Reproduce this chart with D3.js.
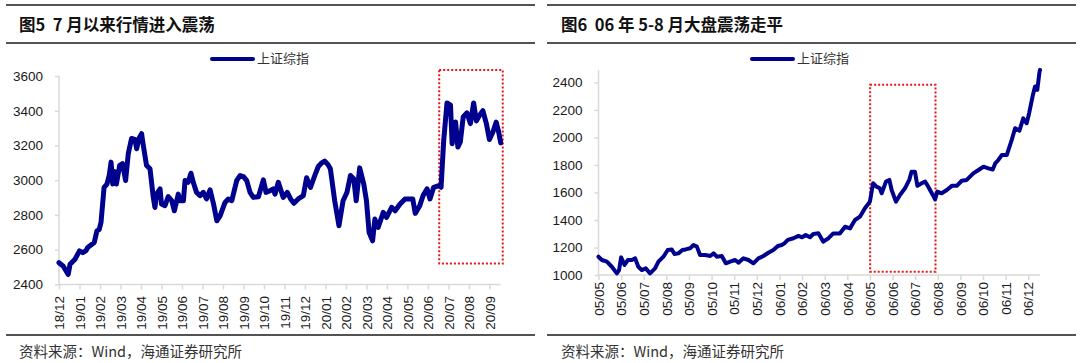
<!DOCTYPE html>
<html>
<head>
<meta charset="utf-8">
<script src="https://cdn.jsdelivr.net/npm/d3@7"></script>
<style>
  body { margin: 0; background: #fff; }
  svg { display: block; }
  .rule { stroke: #1a1a1a; stroke-width: 1.6; }
  .title { font-family: "Noto Sans CJK SC", sans-serif; font-weight: 700; font-size: 16.5px; fill: #111; white-space: pre; }
  .source { font-family: "Noto Sans CJK SC", sans-serif; font-size: 14.5px; fill: #333; }
  .legend text { font-family: "Noto Sans CJK SC", sans-serif; font-size: 13px; fill: #333; }
  .axis text { font-family: "Liberation Sans", Arial, sans-serif; font-size: 13.5px; fill: #1a1a1a; }
  .axis path, .axis line { stroke: #d9d9d9; stroke-width: 1.5; }
  .line { fill: none; stroke: #00008f; stroke-linejoin: round; stroke-linecap: round; }
  .box { fill: none; stroke: #e3161b; stroke-width: 2; stroke-dasharray: 2,2; }
</style>
</head>
<body>
<div id="chart"></div>
<script>
var width = 1080, height = 363;

// 图5: 上证综指, 18/12 - 20/09 (x in label steps)
var leftLabels = ["18/12","19/01","19/02","19/03","19/04","19/05","19/06","19/07","19/08","19/09","19/10","19/11","19/12",
  "20/01","20/02","20/03","20/04","20/05","20/06","20/07","20/08","20/09"];
var leftX = [0,0.2,0.45,0.54,0.78,1.0,1.16,1.32,1.4,1.72,1.85,1.96,2.05,2.2,2.34,2.45,2.54,2.62,2.7,2.8,2.96,3.1,3.25,3.38,3.54,3.7,3.79,3.9,4.03,4.1,4.27,4.44,4.6,4.68,4.76,4.93,5.0,5.17,5.33,5.5,5.63,5.82,5.9,6.07,6.15,6.3,6.44,6.55,6.71,6.88,7.04,7.2,7.37,7.54,7.7,7.86,8.1,8.26,8.43,8.67,8.84,9.0,9.16,9.32,9.48,9.73,9.97,10.1,10.3,10.45,10.54,10.7,10.94,11.14,11.3,11.46,11.67,11.92,12.08,12.27,12.48,12.65,12.8,12.96,13.12,13.24,13.45,13.66,13.86,14.05,14.22,14.38,14.5,14.67,14.87,15.0,15.13,15.3,15.41,15.57,15.82,15.98,16.23,16.4,16.64,16.88,17.1,17.26,17.38,17.6,17.76,17.96,18.1,18.28,18.53,18.64,18.77,18.93,19.1,19.18,19.35,19.46,19.58,19.72,19.9,20.07,20.23,20.36,20.52,20.68,20.85,21.0,21.17,21.33,21.45,21.55];
var leftY = [2525,2506,2458,2516,2545,2593,2583,2595,2612,2641,2708,2716,2757,2959,2978,3027,3104,2978,3050,2978,3085,3095,2998,3153,3240,3235,3181,3240,3268,3210,3085,3066,2901,2843,2920,2950,2863,2853,2905,2882,2824,2920,2882,2882,2998,2988,3040,2988,2930,2911,2930,2892,2944,2863,2766,2795,2872,2892,2882,2998,3027,3021,2998,2930,2901,2905,3002,2930,2940,2950,2920,2988,2901,2930,2892,2867,2892,2911,3014,2959,3027,3079,3098,3110,3091,3066,2882,2738,2882,2930,3027,3008,2882,3071,2978,2882,2699,2651,2776,2728,2815,2786,2844,2824,2863,2892,2892,2892,2809,2853,2911,2950,2892,2959,2969,2959,3230,3445,3432,3210,3335,3191,3220,3364,3388,3326,3445,3341,3374,3400,3326,3234,3278,3335,3278,3215];
var leftTicks = [2400,2600,2800,3000,3200,3400,3600];
var leftBoxX = [18.55,21.65], leftBoxY = [2520,3635];

// 图6: 上证综指, 05/05 - 06/12
var rightLabels = ["05/05","05/06","05/07","05/08","05/09","05/10","05/11","05/12",
  "06/01","06/02","06/03","06/04","06/05","06/06","06/07","06/08","06/09","06/10","06/11","06/12"];
var rightX = [0,0.15,0.37,0.59,0.81,0.91,1.0,1.15,1.3,1.47,1.62,1.76,1.91,2.09,2.28,2.5,2.65,2.87,3.06,3.24,3.36,3.53,3.71,3.85,4.05,4.2,4.35,4.49,4.72,4.94,5.09,5.23,5.45,5.63,5.82,6.04,6.19,6.41,6.63,6.85,7.07,7.29,7.51,7.73,7.93,8.1,8.22,8.37,8.62,8.84,9.0,9.16,9.35,9.5,9.72,9.94,10.16,10.38,10.67,10.9,11.12,11.34,11.56,11.78,12.0,12.14,12.29,12.44,12.52,12.71,12.86,12.96,13.15,13.33,13.55,13.74,13.84,13.99,14.1,14.29,14.44,14.58,14.78,14.88,14.98,15.17,15.4,15.62,15.84,16.06,16.28,16.57,16.8,17.02,17.24,17.43,17.54,17.68,17.83,18.05,18.27,18.42,18.61,18.78,18.93,19.04,19.19,19.3,19.4,19.49,19.52];
var rightY = [1133,1109,1097,1060,1012,1036,1128,1073,1109,1109,1121,1060,1036,1048,1012,1048,1097,1133,1182,1186,1152,1157,1182,1186,1194,1218,1206,1145,1145,1138,1157,1133,1138,1085,1097,1109,1090,1121,1109,1085,1121,1138,1162,1182,1211,1218,1230,1255,1267,1284,1274,1291,1274,1298,1303,1242,1266,1302,1302,1351,1339,1400,1424,1485,1533,1667,1642,1630,1594,1679,1691,1618,1533,1582,1630,1691,1751,1751,1648,1667,1679,1642,1582,1550,1606,1594,1618,1648,1648,1685,1691,1739,1763,1787,1775,1767,1811,1836,1872,1872,1982,2067,2049,2139,2103,2176,2297,2370,2345,2467,2491];
var rightTicks = [1000,1200,1400,1600,1800,2000,2200,2400];
var rightBoxX = [12.01,14.9], rightBoxY = [1024,2382];

var svg = d3.select("#chart").append("svg")
  .attr("width", width)
  .attr("height", height);

var panels = [
  { x0: 6, x1: 535, title: "图5  7 月以来行情进入震荡", tx: 19,
    labels: leftLabels, xs: leftX, ys: leftY, ticks: leftTicks,
    xDom: [0, 21.55], yDom: [2400, 3600], xr: [59, 500.7], yr: [284.4, 76],
    boxX: leftBoxX, boxY: leftBoxY, sw: 5, lx: 212, labTop: 296 },
  { x0: 547, x1: 1076, title: "图6  06 年 5-8 月大盘震荡走平", tx: 561,
    labels: rightLabels, xs: rightX, ys: rightY, ticks: rightTicks,
    xDom: [0, 19.52], yDom: [1000, 2490], xr: [598.5, 1040], yr: [275, 70],
    boxX: rightBoxX, boxY: rightBoxY, sw: 4, lx: 752, labTop: 282 }
];

panels.forEach(function(p) {
  var g = svg.append("g");

  g.append("line").attr("class", "rule")
    .attr("x1", p.x0).attr("x2", p.x1).attr("y1", 5).attr("y2", 5);
  g.append("line").attr("class", "rule")
    .attr("x1", p.x0).attr("x2", p.x1).attr("y1", 43).attr("y2", 43);
  g.append("line").attr("class", "rule")
    .attr("x1", p.x0).attr("x2", p.x1).attr("y1", 335).attr("y2", 335);

  g.append("text").attr("class", "title")
    .attr("x", p.tx).attr("y", 25).attr("dy", "0.35em")
    .text(p.title);

  g.append("text").attr("class", "source")
    .attr("x", p.tx).attr("y", 352).attr("dy", "0.35em")
    .text("资料来源：Wind，海通证券研究所");

  var x = d3.scaleLinear().domain(p.xDom).range(p.xr);
  var y = d3.scaleLinear().domain(p.yDom).range(p.yr);

  g.append("g").attr("class", "axis")
    .attr("transform", "translate(" + p.xr[0] + ",0)")
    .call(d3.axisLeft(y).tickValues(p.ticks).tickSize(4).tickPadding(12).tickFormat(d3.format("d")))
    .call(function(a) { a.select(".domain").attr("d", "M0," + p.yr[1] + "V" + p.yr[0]); });

  var xa = g.append("g").attr("class", "axis")
    .attr("transform", "translate(0," + p.yr[0] + ")")
    .call(d3.axisBottom(x).tickValues(d3.range(p.labels.length))
      .tickSize(5).tickFormat(function(i) { return p.labels[i]; }))
    .call(function(a) { a.select(".domain").attr("d", "M" + p.xr[0] + ",0H" + p.xr[1]); });

  xa.selectAll(".tick text")
    .attr("transform", "rotate(-90)")
    .attr("text-anchor", "end")
    .attr("x", -(p.labTop - p.yr[0]))
    .attr("y", 0)
    .attr("dy", "0.35em");

  g.append("rect").attr("class", "box")
    .attr("x", x(p.boxX[0])).attr("y", y(p.boxY[1]))
    .attr("width", x(p.boxX[1]) - x(p.boxX[0]))
    .attr("height", y(p.boxY[0]) - y(p.boxY[1]));

  var line = d3.line()
    .x(function(d, i) { return x(p.xs[i]); })
    .y(function(d) { return y(d); });

  g.append("path").datum(p.ys)
    .attr("class", "line")
    .attr("stroke-width", p.sw)
    .attr("d", line);

  var lg = g.append("g").attr("class", "legend");
  lg.append("line")
    .attr("x1", p.lx).attr("x2", p.lx + 41).attr("y1", 59).attr("y2", 59)
    .attr("stroke", "#00008f").attr("stroke-width", 4).attr("stroke-linecap", "round");
  lg.append("text")
    .attr("x", p.lx + 45).attr("y", 58).attr("dy", "0.35em")
    .text("上证综指");
});
</script>
</body>
</html>
